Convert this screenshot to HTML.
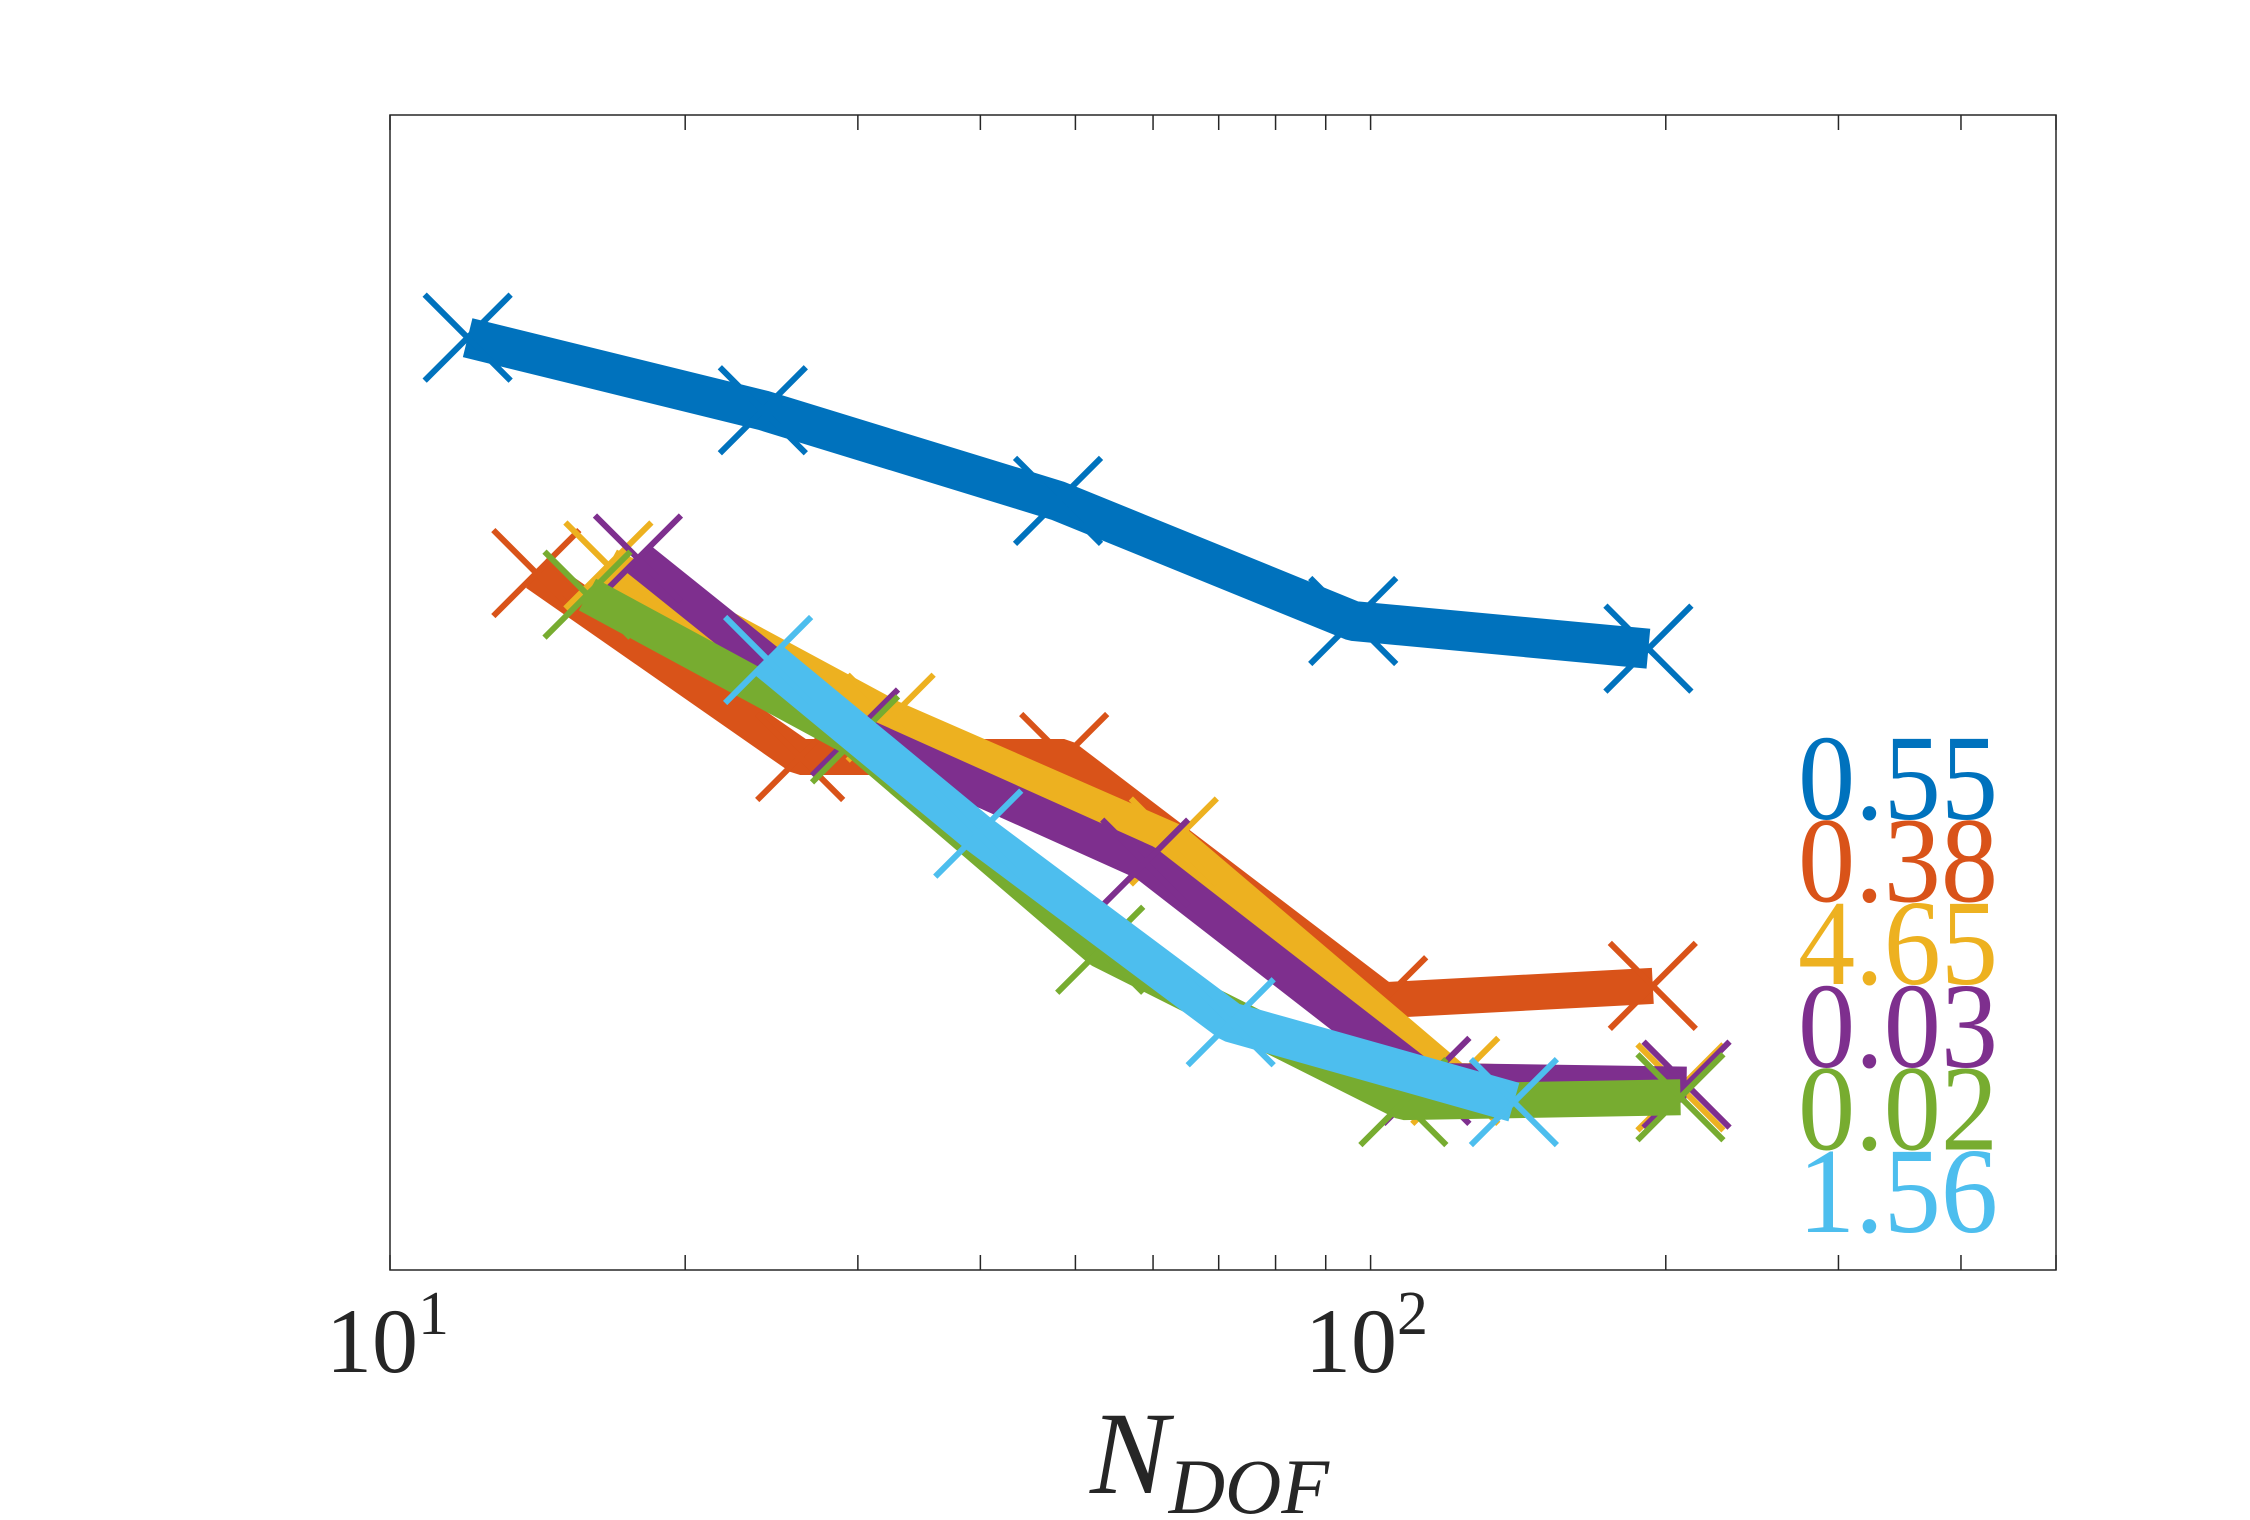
<!DOCTYPE html>
<html><head><meta charset="utf-8"><style>
html,body{margin:0;padding:0;background:#fff;}
svg{display:block;}
</style></head><body>
<svg id="chart" width="2250" height="1520" viewBox="0 0 2250 1520" xmlns="http://www.w3.org/2000/svg">
<rect x="0" y="0" width="2250" height="1520" fill="#fff"/>
<g id="marks"></g>
<rect x="390" y="115" width="1666" height="1155" fill="none" stroke="#262626" stroke-width="1.5"/>
<g id="ticks"></g>
<text x="326" y="1372" font-family="Liberation Serif, serif" font-size="92" fill="#262626">10<tspan dy="-38" font-size="62">1</tspan></text>
<text x="1305" y="1372" font-family="Liberation Serif, serif" font-size="92" fill="#262626">10<tspan dy="-38" font-size="62">2</tspan></text>
<text x="1090" y="1493" font-family="Liberation Serif, serif" font-style="italic" font-size="118" fill="#262626">N<tspan dy="20" font-size="78">DOF</tspan></text>
<g id="labels"></g>
</svg>
<script>
const colors = ["#0072BD","#D95319","#EDB120","#7E2F8E","#77AC30","#4DBEEE"];
const seriesLabels = ["0.55","0.38","4.65","0.03","0.02","1.56"];
const xBlue = [12,24,48,96,192];
const yBlue = [0.264,0.171,0.0995,0.0485,0.0411];
const xOrange = [14.1,26.2,48.7,103,194];
const yOrange = [0.0646,0.0215,0.0215,0.00502,0.00547];
const xYellow = [16.7,32.4,63,122,207];
const yYellow = [0.0676,0.0272,0.01297,0.0031,0.00298];
const xPurple = [17.9,29.8,58.9,114,210];
const yPurple = [0.0705,0.0249,0.01143,0.0031,0.00303];
const xGreen = [15.9,29.8,53,108,207];
const yGreen = [0.0568,0.0239,0.00679,0.00273,0.00281];
const xCyan = [24.3,39.8,72,140];
const yCyan = [0.0384,0.0136,0.0044,0.00273];
const xTicks = [10,20,30,40,50,60,70,80,90,100,200,300,400,500];

const L=390,R=2056,T=115,B=1270;
const xMin=1, xMax=Math.log10(500), yMin=-3, yMax=0;
function xs(v){return L+(Math.log10(v)-xMin)/(xMax-xMin)*(R-L);}
function ys(v){return B-(Math.log10(v)-yMin)/(yMax-yMin)*(B-T);}
const NS="http://www.w3.org/2000/svg";
const marks=document.getElementById('marks');
const allX=[xBlue,xOrange,xYellow,xPurple,xGreen,xCyan];
const allY=[yBlue,yOrange,yYellow,yPurple,yGreen,yCyan];
const widths=[40,36,36,36,36,40];
const names=["blue","orange","yellow","purple","green","cyan"];
allX.forEach((xa,i)=>{
  const g=document.createElementNS(NS,'g');
  
  
  const pl=document.createElementNS(NS,'polyline');
  pl.setAttribute('points',xa.map((x,j)=>xs(x)+','+ys(allY[i][j])).join(' '));
  pl.setAttribute('fill','none');pl.setAttribute('stroke',colors[i]);
  pl.setAttribute('stroke-width',widths[i]);pl.setAttribute('stroke-linejoin','bevel');
  
  
  g.appendChild(pl);
  xa.forEach((x,j)=>{
    const cx=xs(x),cy=ys(allY[i][j]),s=43;
    const p=document.createElementNS(NS,'path');
    p.setAttribute('d',`M${cx-s} ${cy-s}L${cx+s} ${cy+s}M${cx-s} ${cy+s}L${cx+s} ${cy-s}`);
    p.setAttribute('stroke',colors[i]);p.setAttribute('stroke-width',6);
    
    
    g.appendChild(p);
  });
  marks.appendChild(g);
});
const tk=document.getElementById('ticks');
xTicks.forEach(v=>{
  const x=xs(v);
  [[B,B-15],[T,T+15]].forEach(([a,b])=>{
    const l=document.createElementNS(NS,'line');
    l.setAttribute('x1',x);l.setAttribute('x2',x);l.setAttribute('y1',a);l.setAttribute('y2',b);
    l.setAttribute('stroke','#262626');l.setAttribute('stroke-width',1.5);
    
    
    tk.appendChild(l);
  });
});
const lg=document.getElementById('labels');
seriesLabels.forEach((t,i)=>{
  const e=document.createElementNS(NS,'text');
  e.setAttribute('x',1998);e.setAttribute('y',819+i*82.6);
  e.setAttribute('text-anchor','end');e.setAttribute('font-family','Liberation Serif, serif');
  e.setAttribute('font-size',122);e.setAttribute('fill',colors[i]);
  e.setAttribute('textLength',200);e.setAttribute('lengthAdjust','spacingAndGlyphs');
  e.textContent=t;
  
  
  lg.appendChild(e);
});
</script>
</body></html>
